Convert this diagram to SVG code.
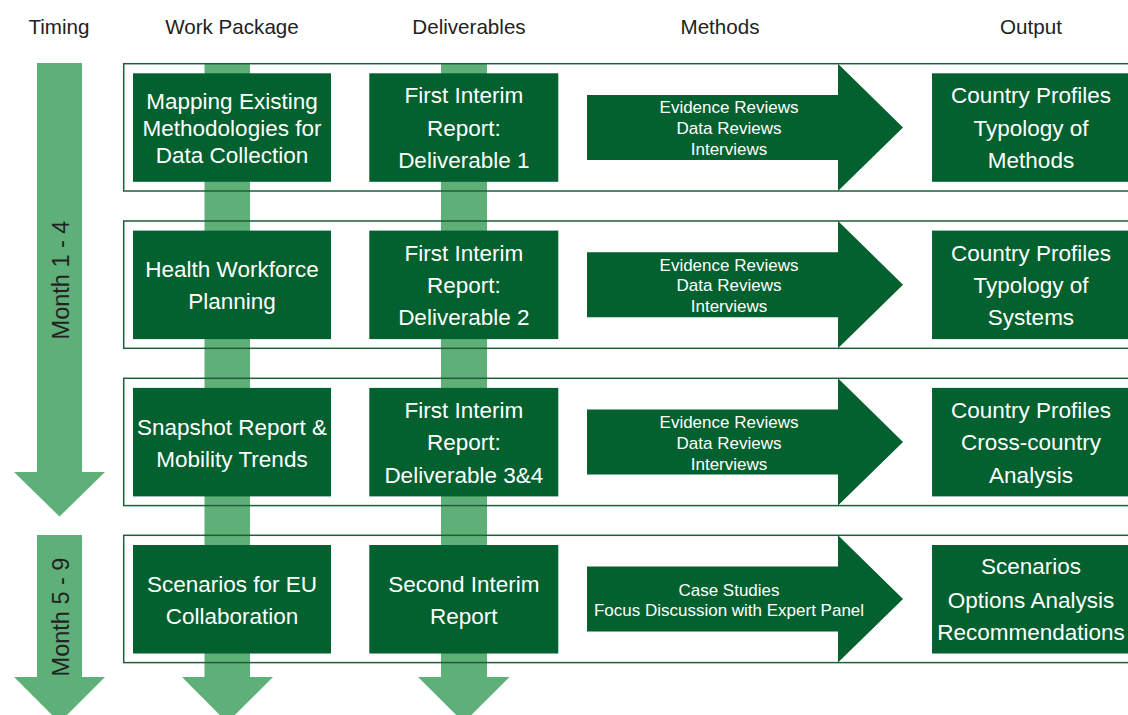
<svg xmlns="http://www.w3.org/2000/svg" width="1128" height="715" viewBox="0 0 1128 715">
<style>
.hdr{font-family:"Liberation Sans",Arial,sans-serif;font-size:20.6px;fill:#222;text-anchor:middle}
.month{font-family:"Liberation Sans",Arial,sans-serif;font-size:23.5px;fill:#222;text-anchor:middle}
.box{fill:#03602F}
.bt{font-family:"Liberation Sans",Arial,sans-serif;font-size:22.5px;fill:#fff;text-anchor:middle}
.mt{font-family:"Liberation Sans",Arial,sans-serif;font-size:17px;fill:#fff;text-anchor:middle}
.light{fill:#5FAF78}
.outer{fill:none;stroke:#1E5E3A;stroke-width:1.5}
</style>
<rect width="1128" height="715" fill="#fff"/>
<g id="headers">
<text class="hdr" x="59" y="34">Timing</text>
<text class="hdr" x="232" y="34">Work Package</text>
<text class="hdr" x="469" y="34">Deliverables</text>
<text class="hdr" x="720" y="34">Methods</text>
<text class="hdr" x="1031" y="34">Output</text>
</g>
<g id="connectors">
<polygon class="light" points="37,63 82,63 82,472 105,472 59.5,516.5 14,472 37,472"/>
<polygon class="light" points="37,535 82,535 82,677 105,677 59.5,722.5 14,677 37,677"/>
<polygon class="light" points="204.5,63 250,63 250,677 273,677 227.3,722.5 182,677 204.5,677"/>
<polygon class="light" points="441,63 487,63 487,677 509.5,677 463.8,722.5 418,677 441,677"/>
</g>
<g id="timing-labels">
<text class="month" transform="translate(68.5,280) rotate(-90)">Month 1 - 4</text>
<text class="month" transform="translate(68.5,617) rotate(-90)">Month 5 - 9</text>
</g>
<g id="row1">
<rect class="outer" x="123.7" y="63.7" width="1010" height="127.3"/>
<g id="wp1"><rect class="box" x="133" y="73.3" width="198" height="108.5"/>
<text class="bt" x="232" y="109">Mapping Existing</text><text class="bt" x="232" y="136">Methodologies for</text><text class="bt" x="232" y="163">Data Collection</text></g>
<g id="del1"><rect class="box" x="369.3" y="73.3" width="189" height="108.5"/>
<text class="bt" x="463.8" y="103.3">First Interim</text><text class="bt" x="463.8" y="135.7">Report:</text><text class="bt" x="463.8" y="168">Deliverable 1</text></g>
<g id="met1"><polygon class="box" points="587,95 838,95 838,63.7 903,127.4 838,191 838,160 587,160"/>
<text class="mt" x="729" y="112.5">Evidence Reviews</text><text class="mt" x="729" y="133.5">Data Reviews</text><text class="mt" x="729" y="154.5">Interviews</text></g>
<g id="out1"><rect class="box" x="932" y="73.3" width="198" height="108.5"/>
<text class="bt" x="1031" y="103.3">Country Profiles</text><text class="bt" x="1031" y="136">Typology of</text><text class="bt" x="1031" y="168">Methods</text></g>
</g>
<g id="row2">
<rect class="outer" x="123.7" y="221" width="1010" height="127.3"/>
<g id="wp2"><rect class="box" x="133" y="230.6" width="198" height="108.5"/>
<text class="bt" x="232" y="277">Health Workforce</text><text class="bt" x="232" y="309">Planning</text></g>
<g id="del2"><rect class="box" x="369.3" y="230.6" width="189" height="108.5"/>
<text class="bt" x="463.8" y="260.6">First Interim</text><text class="bt" x="463.8" y="293">Report:</text><text class="bt" x="463.8" y="325.3">Deliverable 2</text></g>
<g id="met2"><polygon class="box" points="587,252.3 838,252.3 838,221 903,284.7 838,348.3 838,317.3 587,317.3"/>
<text class="mt" x="729" y="270.5">Evidence Reviews</text><text class="mt" x="729" y="291">Data Reviews</text><text class="mt" x="729" y="311.5">Interviews</text></g>
<g id="out2"><rect class="box" x="932" y="230.6" width="198" height="108.5"/>
<text class="bt" x="1031" y="260.6">Country Profiles</text><text class="bt" x="1031" y="293.3">Typology of</text><text class="bt" x="1031" y="325.3">Systems</text></g>
</g>
<g id="row3">
<rect class="outer" x="123.7" y="378.3" width="1010" height="127.3"/>
<g id="wp3"><rect class="box" x="133" y="387.9" width="198" height="108.5"/>
<text class="bt" x="232" y="435">Snapshot Report &amp;</text><text class="bt" x="232" y="467">Mobility Trends</text></g>
<g id="del3"><rect class="box" x="369.3" y="387.9" width="189" height="108.5"/>
<text class="bt" x="463.8" y="418">First Interim</text><text class="bt" x="463.8" y="450.3">Report:</text><text class="bt" x="463.8" y="482.6">Deliverable 3&amp;4</text></g>
<g id="met3"><polygon class="box" points="587,409.6 838,409.6 838,378.3 903,442 838,505.6 838,474.6 587,474.6"/>
<text class="mt" x="729" y="428">Evidence Reviews</text><text class="mt" x="729" y="449">Data Reviews</text><text class="mt" x="729" y="470">Interviews</text></g>
<g id="out3"><rect class="box" x="932" y="387.9" width="198" height="108.5"/>
<text class="bt" x="1031" y="418">Country Profiles</text><text class="bt" x="1031" y="450.3">Cross-country</text><text class="bt" x="1031" y="482.6">Analysis</text></g>
</g>
<g id="row4">
<rect class="outer" x="123.7" y="535.3" width="1010" height="127.3"/>
<g id="wp4"><rect class="box" x="133" y="545" width="198" height="108.5"/>
<text class="bt" x="232" y="592">Scenarios for EU</text><text class="bt" x="232" y="624">Collaboration</text></g>
<g id="del4"><rect class="box" x="369.3" y="545" width="189" height="108.5"/>
<text class="bt" x="463.8" y="592">Second Interim</text><text class="bt" x="463.8" y="624">Report</text></g>
<g id="met4"><polygon class="box" points="587,566.6 838,566.6 838,535.3 903,599 838,662.6 838,631.6 587,631.6"/>
<text class="mt" x="729" y="596">Case Studies</text><text class="mt" x="729" y="616">Focus Discussion with Expert Panel</text></g>
<g id="out4"><rect class="box" x="932" y="545" width="198" height="108.5"/>
<text class="bt" x="1031" y="574.3">Scenarios</text><text class="bt" x="1031" y="607.5">Options Analysis</text><text class="bt" x="1031" y="640">Recommendations</text></g>
</g>
</svg>
